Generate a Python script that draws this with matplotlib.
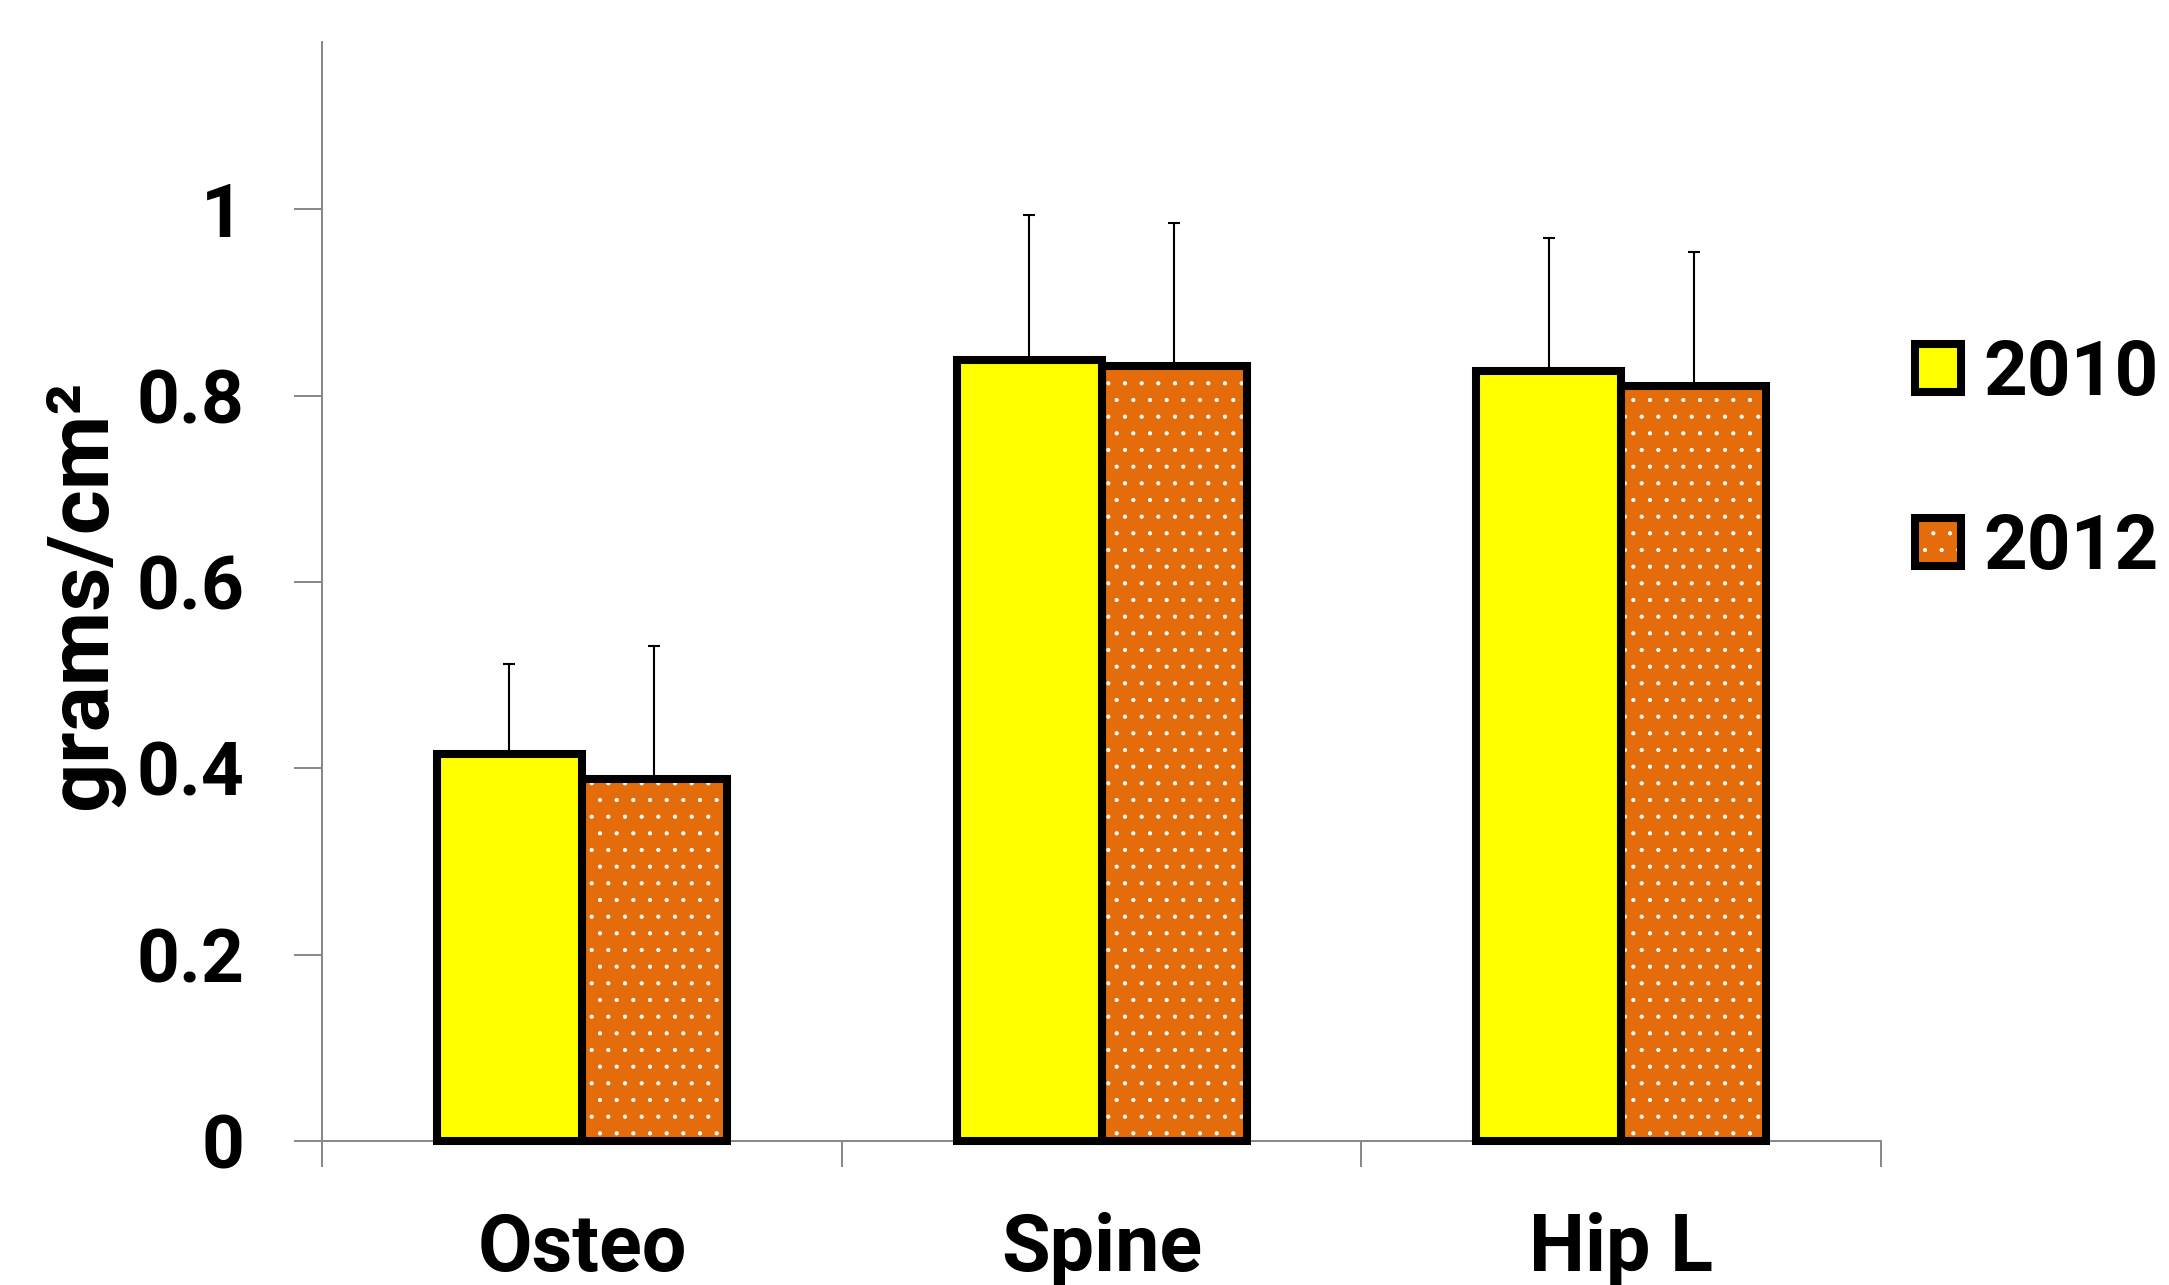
import matplotlib
matplotlib.use('Agg')
import matplotlib.pyplot as plt
import numpy as np
from matplotlib.patches import Patch

plt.rcParams['font.family'] = ['Roboto', 'DejaVu Sans']
plt.rcParams['font.weight'] = 'bold'
plt.rcParams['hatch.linewidth'] = 0.6

# values
sites = ['Osteo', 'Spine', 'Hip L']
years = ['2010', '2012']
bmd_2010 = [0.415, 0.838, 0.826]
bmd_2012 = [0.389, 0.832, 0.810]
err_2010 = [0.097, 0.156, 0.143]
err_2012 = [0.142, 0.153, 0.144]
yticks = [0, 0.2, 0.4, 0.6, 0.8, 1]
ytick_labels = ['0', '0.2', '0.4', '0.6', '0.8', '1']

yellow = '#FFFF00'
orange = '#E46C0A'
gray = '#868686'
edge_lw = 5.8

fig = plt.figure(figsize=(21.69, 12.85), dpi=100)
ax = fig.add_axes([0.1485, 0.1121, 0.7187, 0.8556])

x = np.arange(len(sites))
w = 0.279

# error bars (upper only), behind the bars
ax.errorbar(x - w / 2, bmd_2010, yerr=[np.zeros(len(x)), err_2010], fmt='none',
            ecolor='black', elinewidth=1.5, capsize=4.3, capthick=1.5, zorder=1)
ax.errorbar(x + w / 2, bmd_2012, yerr=[np.zeros(len(x)), err_2012], fmt='none',
            ecolor='black', elinewidth=1.5, capsize=4.3, capthick=1.5, zorder=1)

ax.bar(x - w / 2, bmd_2010, w, color=yellow, edgecolor='black',
       linewidth=edge_lw, zorder=3, clip_on=False)
# dotted fill for 2012 then the black outline on top
ax.bar(x + w / 2, bmd_2012, w, color=orange, edgecolor='white', hatch='.',
       linewidth=0, zorder=2, clip_on=False)
ax.bar(x + w / 2, bmd_2012, w, color='none', edgecolor='black',
       linewidth=edge_lw, zorder=3, clip_on=False)

ax.set_xlim(-0.5, 2.5)
ax.set_ylim(0, 1.18)

for s in ['top', 'right']:
    ax.spines[s].set_visible(False)
for s in ['left', 'bottom']:
    ax.spines[s].set_color(gray)
    ax.spines[s].set_linewidth(1.4)

ax.set_yticks(yticks, ytick_labels)
ax.tick_params(axis='y', length=20, width=1.4, color=gray, pad=36, labelsize=54)
ax.set_xticks(x, sites)
ax.set_xticks([-0.5, 0.5, 1.5, 2.5], minor=True)
ax.tick_params(axis='x', which='major', length=0, pad=51, labelsize=57)
ax.tick_params(axis='x', which='minor', length=19, width=1.4, color=gray)

ax.set_ylabel('grams/cm²', fontsize=62, fontweight='bold')
ax.yaxis.set_label_coords(-0.153, 0.4975)
ax.yaxis.label.set_va('center')

h2010 = Patch(facecolor=yellow, edgecolor='black', linewidth=edge_lw)
h2012 = (Patch(facecolor=orange, edgecolor='white', hatch='.', linewidth=0),
         Patch(facecolor='none', edgecolor='black', linewidth=edge_lw))
fig.legend([h2010, h2012], years, loc='center left',
           bbox_to_anchor=(1915 / 2169, 1 - 461.5 / 1285), frameon=False,
           fontsize=55, handlelength=0.6, handleheight=0.6, handletextpad=0.3,
           labelspacing=1.32, borderpad=0, borderaxespad=0)

fig.savefig('out.png', dpi=100)
